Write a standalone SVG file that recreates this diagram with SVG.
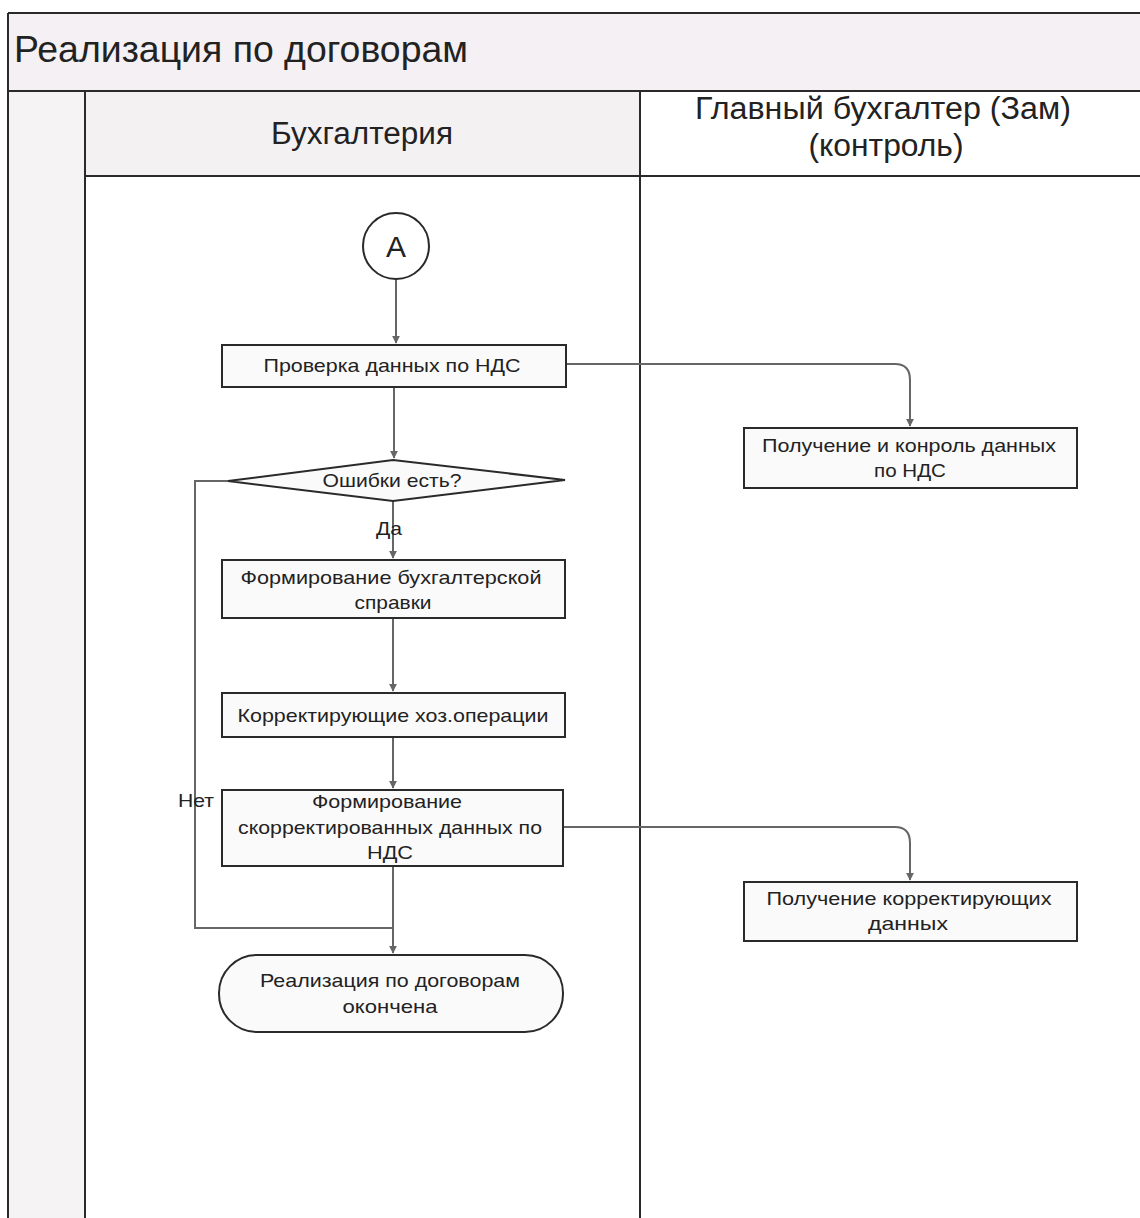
<svg xmlns="http://www.w3.org/2000/svg" width="1140" height="1218" viewBox="0 0 1140 1218">
<defs>
<style>
.t{font-family:"Liberation Sans",Arial,sans-serif;fill:#222}
.h{font-size:31px}
.n{font-size:19px}
.box{fill:#fbfafb;stroke:#2a2a2a;stroke-width:2}
.ln{fill:none;stroke:#2a2a2a;stroke-width:2}
.c{fill:none;stroke:#666;stroke-width:2}
</style>
<marker id="ar" viewBox="0 0 10 10" refX="9" refY="5" markerWidth="8" markerHeight="8" orient="auto" markerUnits="userSpaceOnUse">
<path d="M0,0 L10,5 L0,10 z" fill="#666"/>
</marker>
</defs>
<rect width="1140" height="1218" fill="#ffffff"/>
<g id="pool">
<rect x="8" y="13" width="1132" height="78" fill="#f4f0f3"/>
<rect x="8" y="91" width="77" height="1127" fill="#f6f3f5"/>
<rect x="85" y="91" width="555" height="85" fill="#f4f1f3"/>
<path class="ln" d="M8,13 H1140 M8,13 V1218 M8,91 H1140 M85,91 V1218 M640,91 V1218 M85,176 H1140"/>
<text class="t" font-size="36" x="14" y="62" textLength="454" lengthAdjust="spacingAndGlyphs">Реализация по договорам</text>
<text class="t h" x="362" y="144" text-anchor="middle" textLength="182" lengthAdjust="spacingAndGlyphs">Бухгалтерия</text>
<text class="t h" x="883" y="119" text-anchor="middle" textLength="376" lengthAdjust="spacingAndGlyphs">Главный бухгалтер (Зам)</text>
<text class="t h" x="886" y="156" text-anchor="middle" textLength="155" lengthAdjust="spacingAndGlyphs">(контроль)</text>
</g>
<g id="connectors">
<path class="c" d="M396,279 V343" marker-end="url(#ar)"/>
<path class="c" d="M394,387 V458" marker-end="url(#ar)"/>
<path class="c" d="M393,501 V558" marker-end="url(#ar)"/>
<path class="c" d="M393,618 V691" marker-end="url(#ar)"/>
<path class="c" d="M393,737 V788" marker-end="url(#ar)"/>
<path class="c" d="M393,866 V953" marker-end="url(#ar)"/>
<path class="c" d="M228,481 H195 V928 H393"/>
<path class="c" d="M566,364 H895 Q910,364 910,380 V426" marker-end="url(#ar)"/>
<path class="c" d="M563,827 H895 Q910,827 910,843 V880" marker-end="url(#ar)"/>
<text class="t n" x="389" y="535" text-anchor="middle" textLength="26" lengthAdjust="spacingAndGlyphs">Да</text>
<text class="t n" x="196" y="807" text-anchor="middle" textLength="36" lengthAdjust="spacingAndGlyphs">Нет</text>
</g>
<g id="nodeA">
<circle cx="396" cy="246" r="33" fill="#fff" stroke="#2a2a2a" stroke-width="2"/>
<text class="t" x="396" y="257" text-anchor="middle" font-size="30">A</text>
</g>
<g id="check">
<rect class="box" x="222" y="345" width="344" height="42"/>
<text class="t n" x="392" y="372" text-anchor="middle" textLength="257" lengthAdjust="spacingAndGlyphs">Проверка данных по НДС</text>
</g>
<g id="decision">
<polygon class="box" points="228,481 393,460 565,480 393,501"/>
<text class="t n" x="392" y="487" text-anchor="middle" textLength="139" lengthAdjust="spacingAndGlyphs">Ошибки есть?</text>
</g>
<g id="spravka">
<rect class="box" x="222" y="560" width="343" height="58"/>
<text class="t n" x="391" y="584" text-anchor="middle" textLength="301" lengthAdjust="spacingAndGlyphs">Формирование бухгалтерской</text>
<text class="t n" x="393" y="609" text-anchor="middle" textLength="77" lengthAdjust="spacingAndGlyphs">справки</text>
</g>
<g id="correct">
<rect class="box" x="222" y="693" width="343" height="44"/>
<text class="t n" x="393" y="722" text-anchor="middle" textLength="311" lengthAdjust="spacingAndGlyphs">Корректирующие хоз.операции</text>
</g>
<g id="formcorr">
<rect class="box" x="222" y="790" width="341" height="76"/>
<text class="t n" x="387" y="808" text-anchor="middle" textLength="150" lengthAdjust="spacingAndGlyphs">Формирование</text>
<text class="t n" x="390" y="834" text-anchor="middle" textLength="304" lengthAdjust="spacingAndGlyphs">скорректированных данных по</text>
<text class="t n" x="390" y="859" text-anchor="middle" textLength="46" lengthAdjust="spacingAndGlyphs">НДС</text>
</g>
<g id="end">
<rect class="box" x="219" y="955" width="344" height="77" rx="38" ry="38"/>
<text class="t n" x="390" y="987" text-anchor="middle" textLength="260" lengthAdjust="spacingAndGlyphs">Реализация по договорам</text>
<text class="t n" x="390" y="1013" text-anchor="middle" textLength="95" lengthAdjust="spacingAndGlyphs">окончена</text>
</g>
<g id="receive1">
<rect class="box" x="744" y="428" width="333" height="60"/>
<text class="t n" x="909" y="452" text-anchor="middle" textLength="294" lengthAdjust="spacingAndGlyphs">Получение и конроль данных</text>
<text class="t n" x="910" y="477" text-anchor="middle" textLength="72" lengthAdjust="spacingAndGlyphs">по НДС</text>
</g>
<g id="receive2">
<rect class="box" x="744" y="882" width="333" height="59"/>
<text class="t n" x="909" y="905" text-anchor="middle" textLength="285" lengthAdjust="spacingAndGlyphs">Получение корректирующих</text>
<text class="t n" x="908" y="930" text-anchor="middle" textLength="80" lengthAdjust="spacingAndGlyphs">данных</text>
</g>
</svg>
